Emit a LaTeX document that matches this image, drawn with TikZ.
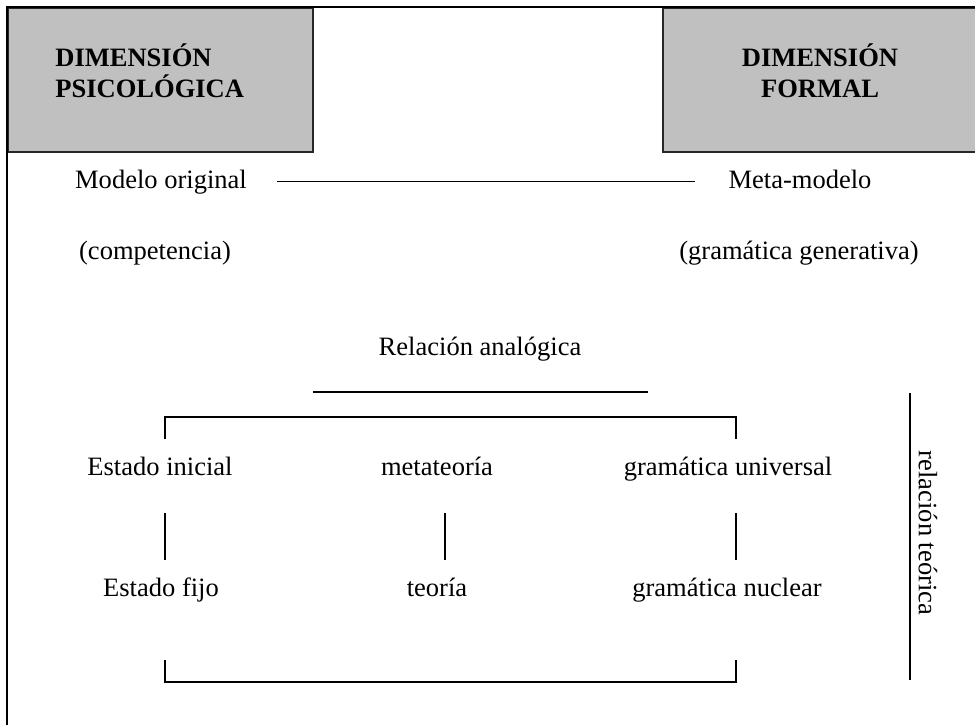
\documentclass[tikz,border=0pt]{standalone}
\usepackage{fontspec}
\setmainfont{Liberation Serif}
\usetikzlibrary{positioning}
\definecolor{boxgray}{RGB}{192,192,192}
\newcommand{\txtsize}{\fontsize{15.1}{17.6}\selectfont}

\begin{document}
\begin{tikzpicture}[x=0.02cm,y=-0.02cm,
    lbl/.style={font=\txtsize, inner sep=0pt, anchor=base},
    head/.style={lbl, font=\txtsize\bfseries},
    dimbox/.style={fill=boxgray, draw=black!85, line width=0.6pt},
    rule/.style={line width=0.9pt}]
  \useasboundingbox (0,0) rectangle (975,725);
  \fill[white] (0,0) rectangle (975,725);

  \draw[dimbox] (8,8) rectangle (313,152);
  \draw[dimbox] (663,8) rectangle (990,152);
  \draw[line width=1.1pt] (975,7) -- (7,7) -- (7,725);

  \node[head, anchor=base west] (psi1) at (55,66) {DIMENSIÓN};
  \node[head, anchor=base west] (psi2) at (55,97) {PSICOLÓGICA};
  \node[head] (form1) at (820,66) {DIMENSIÓN};
  \node[head] (form2) at (820,97) {FORMAL};

  \node[lbl] (orig) at (161,188) {Modelo original};
  \node[lbl] (meta) at (800,188) {Meta-modelo};
  \node[lbl] (comp) at (155,259) {(competencia)};
  \node[lbl] (gen)  at (799,259) {(gramática generativa)};
  \node[lbl] (anal) at (480,355) {Relación analógica};

  \node[lbl] (ini)  at (160,475) {Estado inicial};
  \node[lbl] (mteo) at (437,475) {metateoría};
  \node[lbl] (gu)   at (728,475) {gramática universal};
  \node[lbl] (fijo) at (161,596) {Estado fijo};
  \node[lbl] (teo)  at (437,596) {teoría};
  \node[lbl] (gn)   at (727,596) {gramática nuclear};
  \node[lbl, anchor=center, rotate=-90] (rteo) at (928,533) {relación teórica};

  \coordinate (an1) at (313,392);
  \coordinate (an2) at (648,392);
  \coordinate (top1) at (165,417);
  \coordinate (top2) at (736,417);
  \coordinate (bot1) at (165,682);
  \coordinate (bot2) at (736,682);
  \coordinate (rt1) at (910,393);
  \coordinate (rt2) at (910,680);

  \draw[rule, shorten <=0.6cm, shorten >=0.66cm] (orig.east) -- (meta.west |- orig.east);
  \draw[rule] (an1) -- (an2);
  \draw[rule] ([yshift=-0.44cm]top1) -- (top1) -- (top2) -- ([yshift=-0.44cm]top2);
  \draw[rule] ([yshift=0.44cm]bot1) -- (bot1) -- (bot2) -- ([yshift=0.44cm]bot2);
  \foreach \x in {165,445,736}
    \draw[rule] (\x,513) -- (\x,560);
  \draw[rule] (rt1) -- (rt2);
\end{tikzpicture}
\end{document}
